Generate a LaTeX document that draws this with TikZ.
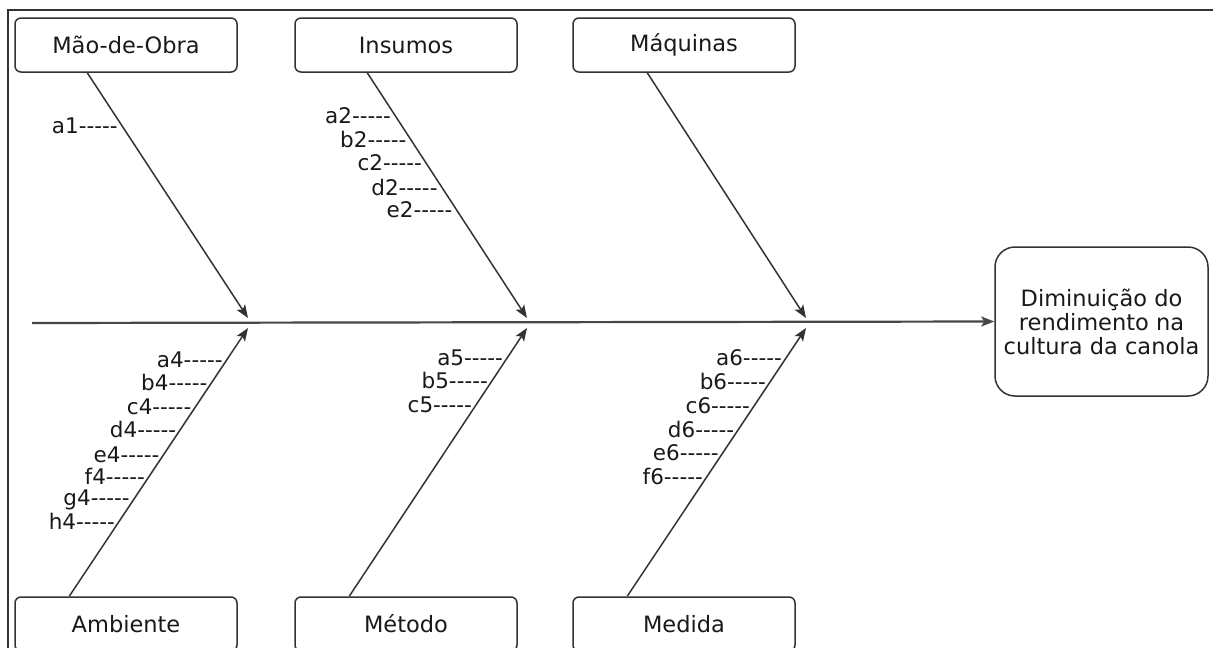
\documentclass[tikz,border=0pt]{standalone}
\usepackage{fontspec}
\setmainfont{DejaVu Sans}
\usetikzlibrary{arrows.meta,calc}
\newcommand{\fbdashes}{-\kern0pt-\kern0pt-\kern0pt-\kern0pt-}
\begin{document}
\begin{tikzpicture}[x=1pt,y=-1pt,
  cause/.style={draw=black!80, line width=1.5pt, rounded corners=6pt, minimum width=222pt, minimum height=54pt, inner sep=0pt, font=\fontsize{22.5}{26}\selectfont, text=black!90},
  effect/.style={draw=black!80, line width=1.5pt, rounded corners=20pt, minimum width=213pt, minimum height=149pt, inner sep=0pt, align=center, font=\fontsize{22.5}{24}\selectfont, text=black!90},
  bone/.style={draw=black!80, line width=1.5pt, -{Stealth[length=13pt,width=10pt,inset=3pt]}},
  spine/.style={draw=black!72, line width=2.2pt, -{Stealth[length=13pt,width=10pt,inset=3pt]}},
  lbl/.style={anchor=east, inner sep=0pt, xshift=-4pt, font=\fontsize{21.5}{24}\selectfont, text=black!90},
  frame/.style={draw=black!80, line width=1.8pt}]
\useasboundingbox (0,0) rectangle (1213,648);
\clip (0,0) rectangle (1213,648);
\draw[frame] (8,652) -- (8,10) -- (1216,10);

% cause boxes
\node[cause] (mo)  at (126,45) {Mão-de-Obra};
\node[cause] (ins) at (406,45) {Insumos};
\node[cause] (maq) at (684,45) {Máquinas};
\node[cause] (amb) at (126,624) {Ambiente};
\node[cause] (met) at (406,624) {Método};
\node[cause] (med) at (684,624) {Medida};

% effect box
\node[effect] (res) at (1101.5,321.5) {Diminuição do\\rendimento na\\cultura da canola};

% spine
\coordinate (sp) at (32,323);
\draw[spine] (sp) -- (res.west);

% bone end points
\coordinate (s1) at ($(mo.south west)+(73,0)$);
\coordinate (s2) at ($(ins.south west)+(73,0)$);
\coordinate (s3) at ($(maq.south west)+(75,0)$);
\coordinate (t1) at (248,318);
\coordinate (t2) at (527,318);
\coordinate (t3) at (806,318);
\coordinate (b1) at ($(amb.north west)+(55,0)$);
\coordinate (b2) at ($(met.north west)+(55,0)$);
\coordinate (b3) at ($(med.north west)+(55,0)$);
\coordinate (u1) at (248,328);
\coordinate (u2) at (527,328);
\coordinate (u3) at (806,328);

\draw[bone] (s1) -- (t1);
\draw[bone] (s2) -- (t2);
\draw[bone] (s3) -- (t3);
\draw[bone] (b1) -- (u1);
\draw[bone] (b2) -- (u2);
\draw[bone] (b3) -- (u3);

% labels top
\node[lbl] (la1) at ($(s1)!0.215!(t1)$) {a1\fbdashes};
\node[lbl] (la2) at ($(s2)!0.174!(t2)$) {a2\fbdashes};
\node[lbl] (lb2) at ($(s2)!0.271!(t2)$) {b2\fbdashes};
\node[lbl] (lc2) at ($(s2)!0.368!(t2)$) {c2\fbdashes};
\node[lbl] (ld2) at ($(s2)!0.466!(t2)$) {d2\fbdashes};
\node[lbl] (le2) at ($(s2)!0.559!(t2)$) {e2\fbdashes};

% labels bottom
\node[lbl] (la4) at ($(b1)!0.881!(u1)$) {a4\fbdashes};
\node[lbl] (lb4) at ($(b1)!0.796!(u1)$) {b4\fbdashes};
\node[lbl] (lc4) at ($(b1)!0.706!(u1)$) {c4\fbdashes};
\node[lbl] (ld4) at ($(b1)!0.621!(u1)$) {d4\fbdashes};
\node[lbl] (le4) at ($(b1)!0.528!(u1)$) {e4\fbdashes};
\node[lbl] (lf4) at ($(b1)!0.446!(u1)$) {f4\fbdashes};
\node[lbl] (lg4) at ($(b1)!0.361!(u1)$) {g4\fbdashes};
\node[lbl] (lh4) at ($(b1)!0.279!(u1)$) {h4\fbdashes};

\node[lbl] (la5) at ($(b2)!0.888!(u2)$) {a5\fbdashes};
\node[lbl] (lb5) at ($(b2)!0.803!(u2)$) {b5\fbdashes};
\node[lbl] (lc5) at ($(b2)!0.714!(u2)$) {c5\fbdashes};

\node[lbl] (la6) at ($(b3)!0.888!(u3)$) {a6\fbdashes};
\node[lbl] (lb6) at ($(b3)!0.799!(u3)$) {b6\fbdashes};
\node[lbl] (lc6) at ($(b3)!0.710!(u3)$) {c6\fbdashes};
\node[lbl] (ld6) at ($(b3)!0.621!(u3)$) {d6\fbdashes};
\node[lbl] (le6) at ($(b3)!0.535!(u3)$) {e6\fbdashes};
\node[lbl] (lf6) at ($(b3)!0.446!(u3)$) {f6\fbdashes};
\end{tikzpicture}
\end{document}
